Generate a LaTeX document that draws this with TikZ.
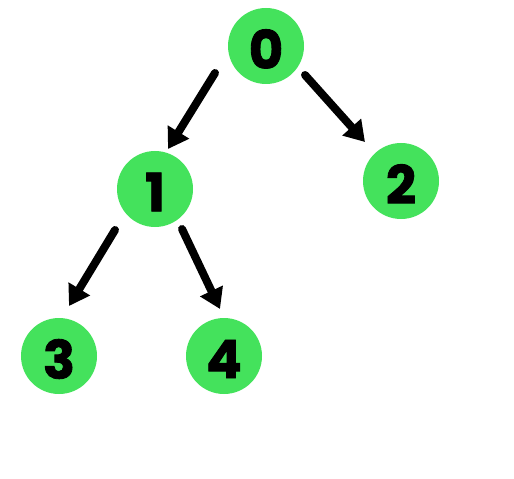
\documentclass[tikz,border=0pt]{standalone}
\usepackage{fontspec}
\setmainfont{Poppins}
\newfontfamily\digitfont{Poppins}[BoldFeatures={FakeBold=1.6}]
\usetikzlibrary{arrows.meta}
\definecolor{nodegreen}{RGB}{68,226,92}
\tikzset{
  vert/.style={circle,fill=nodegreen,minimum size=76bp,inner sep=0pt},
  digit/.style={font=\digitfont\fontsize{53}{53}\selectfont\bfseries,yshift=-3bp},
  edge/.style={line width=8bp,line cap=round,-{Triangle[width=24bp,length=20bp]}}
}
\begin{document}
\begin{tikzpicture}[x=1bp,y=-1bp]
\useasboundingbox (0,0) rectangle (514,479);
\node[vert] (n0) at (266,46) {};
\node[vert] (n1) at (155,189) {};
\node[vert] (n2) at (401,181) {};
\node[vert] (n3) at (59,356) {};
\node[vert] (n4) at (224,356) {};
\node[digit] (t0) at (n0) {0};
\node[digit] (t1) at (n1) {1};
\node[digit] (t2) at (n2) {2};
\node[digit] (t3) at (n3) {3};
\node[digit] (t4) at (n4) {4};
\coordinate (a0) at (215,73);
\coordinate (b0) at (168,149);
\coordinate (a1) at (305,75);
\coordinate (b1) at (365,142);
\coordinate (a2) at (115,230);
\coordinate (b2) at (69,306);
\coordinate (a3) at (182,229);
\coordinate (b3) at (220,309);
\draw[edge] (a0) -- (b0);
\draw[edge] (a1) -- (b1);
\draw[edge] (a2) -- (b2);
\draw[edge] (a3) -- (b3);
\end{tikzpicture}
\end{document}
